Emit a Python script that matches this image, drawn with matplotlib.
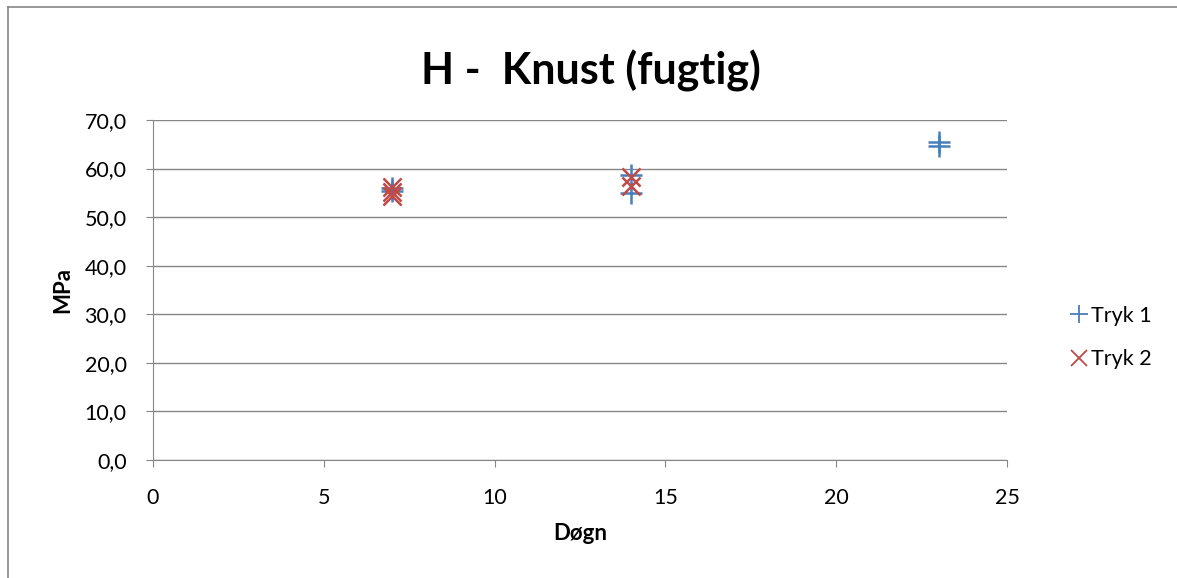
import matplotlib.pyplot as plt
from matplotlib.lines import Line2D

plt.rcParams['font.family'] = ['Lato', 'DejaVu Sans']

# data
tryk1_x = [7, 7, 14, 14, 23, 23]
tryk1_y = [56.0, 55.3, 58.7, 55.0, 65.5, 64.6]
tryk2_x = [7, 7, 7, 14, 14]
tryk2_y = [56.3, 55.2, 54.3, 58.2, 56.5]

x_ticks = [0, 5, 10, 15, 20, 25]
y_ticks = [0, 10, 20, 30, 40, 50, 60, 70]

fig = plt.figure(figsize=(11.77, 5.78), dpi=100)
ax = fig.add_axes([0.13, 0.2042, 0.7256, 0.5882])

blue = '#4a7ebb'
red = '#be4b48'
ax.scatter(tryk1_x, tryk1_y, marker='+', s=260, color=blue, linewidths=1.8, zorder=3, label='Tryk 1')
ax.scatter(tryk2_x, tryk2_y, marker='x', s=170, color=red, linewidths=1.8, zorder=3, label='Tryk 2')

ax.set_xlim(0, 25)
ax.set_ylim(0, 70)
ax.set_xticks(x_ticks)
ax.set_yticks(y_ticks)
ax.set_yticklabels([f'{v:.1f}'.replace('.', ',') for v in y_ticks])
ax.tick_params(labelsize=15.5, colors='#000000', length=5, color='#868686')
ax.tick_params(axis='x', pad=15)
ax.tick_params(axis='y', pad=14)
ax.yaxis.grid(True, color='#868686', linewidth=1)
ax.set_axisbelow(True)
for s in ['top', 'right']:
    ax.spines[s].set_visible(False)
for s in ['left', 'bottom']:
    ax.spines[s].set_color('#868686')

ax.set_xlabel('Døgn', fontsize=16, fontweight='bold', labelpad=11)
ax.set_ylabel('MPa', fontsize=16, fontweight='bold', labelpad=8)
fig.text(0.502, 0.878, 'H -  Knust (fugtig)', fontsize=31, fontweight='bold', ha='center', va='center')

handles = [Line2D([], [], marker='+', color=blue, ls='none', markersize=13, markeredgewidth=1.3),
           Line2D([], [], marker='x', color=red, ls='none', markersize=11, markeredgewidth=1.3)]
fig.legend(handles, ['Tryk 1', 'Tryk 2'], loc='center left', bbox_to_anchor=(0.893, 0.416),
           frameon=False, fontsize=15.5, handlelength=0.8, handletextpad=0.15, labelspacing=1.1)

# chart area border
fig.add_artist(Line2D([0.0068, 0.0068], [0, 0.988], color='#868686', lw=1.2))
fig.add_artist(Line2D([0.0068, 1.0], [0.988, 0.988], color='#868686', lw=1.2))

fig.savefig('out.png', dpi=100)
